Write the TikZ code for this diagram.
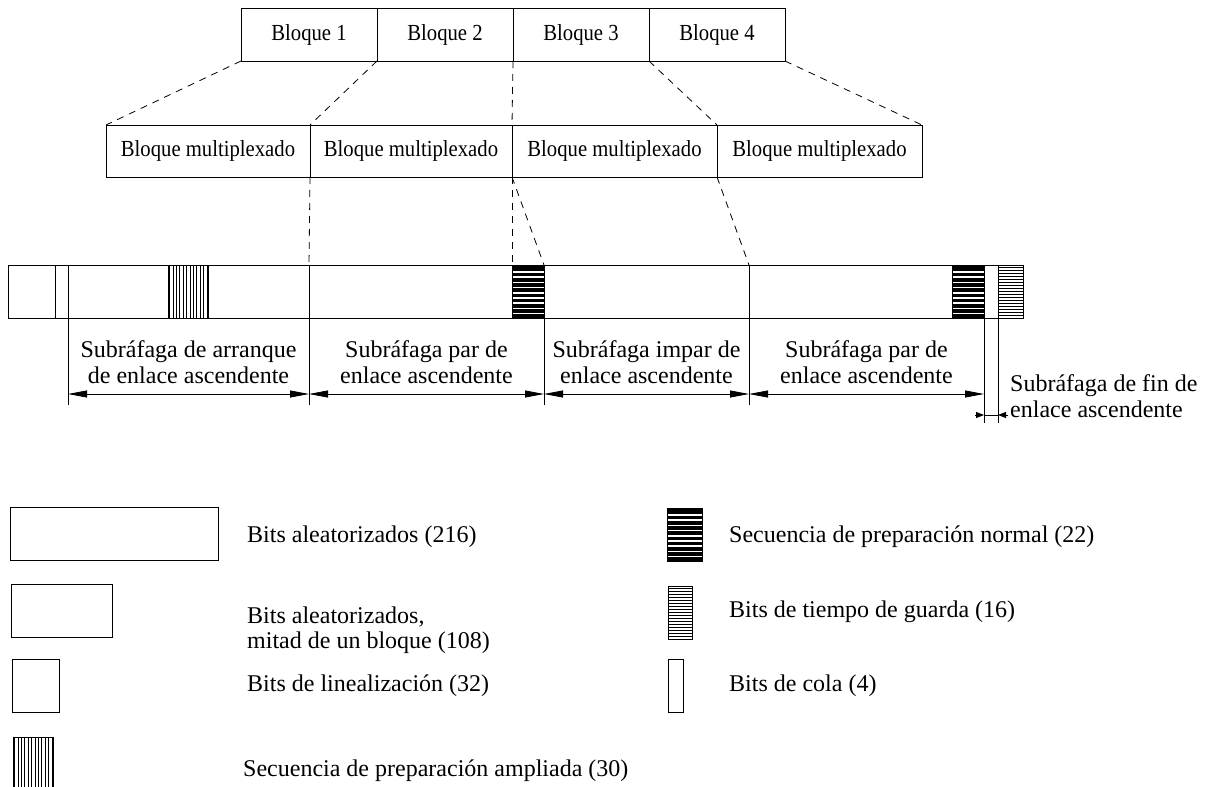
\documentclass[tikz,border=0pt]{standalone}
\usepackage{fontspec}
\usepackage{graphicx}
\setmainfont{Liberation Serif}
\usetikzlibrary{arrows.meta}

\newcommand\lbltxt{\fontsize{24}{25.5}\selectfont}
\newcommand\toplbl{\fontsize{23}{25}\selectfont}
\newcommand\squeezed[1]{\scalebox{0.9}[1]{#1}}

\tikzset{
  seg/.style={draw, line width=0.9pt, minimum height=53pt, inner sep=0pt, outer sep=0pt},
  tbox/.style={seg, minimum width=136pt, font=\toplbl},
  mbox/.style={seg, minimum height=52pt, font=\toplbl},
  guide/.style={line width=0.8pt, dash pattern=on 7pt off 6pt},
  extline/.style={line width=0.7pt},
  dimarr/.style={line width=0.8pt, {Triangle[length=19pt,width=7pt]}-{Triangle[length=19pt,width=7pt]}},
  finarr/.style={line width=0.8pt, -{Triangle[length=8pt,width=6pt]}},
  lbl/.style={font=\lbltxt, align=center, inner sep=0pt},
  leg/.style={font=\lbltxt, anchor=west, inner sep=0pt, align=left},
  % normal training sequence: black with white horizontal lines
  ntrain/.style={seg, fill=black, path picture={
      \foreach \k in {0,...,8}{
        \draw[white, line width=1.5pt]
          ([yshift={-(7+5.2*\k)*1pt}]path picture bounding box.north west) --
          ([yshift={-(7+5.2*\k)*1pt}]path picture bounding box.north east);
      }}},
  % guard time: thin horizontal lines
  gtrain/.style={seg, path picture={
      \foreach \k in {0,...,16}{
        \draw[black, line width=0.6pt]
          ([yshift={-(2.5+3*\k)*1pt}]path picture bounding box.north west) --
          ([yshift={-(2.5+3*\k)*1pt}]path picture bounding box.north east);
      }}},
  % extended training sequence: vertical lines
  xtrain/.style={seg, path picture={
      \foreach \k in {0,...,11}{
        \draw[black, line width=0.8pt]
          ([xshift={(1.5+3.4*\k)*1pt}]path picture bounding box.north west) --
          ([xshift={(1.5+3.4*\k)*1pt}]path picture bounding box.south west);
      }}},
}

\begin{document}
\begin{tikzpicture}[x=1pt, y=-1pt]
  \clip (0,0) rectangle (1208,787);
  \fill[white] (0,0) rectangle (1208,787);

  % blocks
  \node[tbox] (b1) at (309,34.5) {\squeezed{Bloque 1}};
  \node[tbox] (b2) at (445,34.5) {\squeezed{Bloque 2}};
  \node[tbox] (b3) at (581,34.5) {\squeezed{Bloque 3}};
  \node[tbox] (b4) at (717,34.5) {\squeezed{Bloque 4}};

  % multiplexed blocks
  \node[mbox, minimum width=204pt] (m1) at (208,151) {\squeezed{Bloque multiplexado}};
  \node[mbox, minimum width=202pt] (m2) at (411,151) {\squeezed{Bloque multiplexado}};
  \node[mbox, minimum width=205pt] (m3) at (614.5,151) {\squeezed{Bloque multiplexado}};
  \node[mbox, minimum width=205pt] (m4) at (819.5,151) {\squeezed{Bloque multiplexado}};

  % uplink burst
  \node[seg, minimum width=47pt]  (lin) at (31.5,291.5) {};
  \node[seg, minimum width=13pt]  (tl1) at (61.5,291.5) {};
  \node[seg, minimum width=100pt] (rh1) at (118,291.5) {};
  \node[xtrain, minimum width=40pt] (xt) at (188,291.5) {};
  \node[seg, minimum width=101pt] (rh2) at (258.5,291.5) {};
  \node[seg, minimum width=203pt] (r1) at (410.5,291.5) {};
  \node[ntrain, minimum width=32pt] (nt1) at (528,291.5) {};
  \node[seg, minimum width=205pt] (r2) at (646.5,291.5) {};
  \node[seg, minimum width=203pt] (r3) at (850.5,291.5) {};
  \node[ntrain, minimum width=32pt] (nt2) at (968,291.5) {};
  \node[seg, minimum width=14pt]  (tl2) at (991,291.5) {};
  \node[gtrain, minimum width=25pt] (gd) at (1010.5,291.5) {};

  % mapping guides
  \draw[guide] (b1.south west) -- (m1.north west);
  \draw[guide] (b2.south west) -- (m2.north west);
  \draw[guide] (b3.south west) -- (m3.north west);
  \draw[guide] (b4.south west) -- (m4.north west);
  \draw[guide] (b4.south east) -- (m4.north east);
  \draw[guide] (m2.south west) -- (r1.north west);
  \draw[guide] (m3.south west) -- (nt1.north west);
  \draw[guide] (m3.south west) -- (nt1.north east);
  \draw[guide] (m4.south west) -- (r3.north west);

  % extension lines
  \coordinate (v0) at (68,405);
  \coordinate (v1) at (309,405);
  \coordinate (v2) at (544,405);
  \coordinate (v3) at (749,405);
  \coordinate (v4) at (984,423);
  \coordinate (v5) at (998,423);
  \draw[extline] (rh1.south west) -- (v0);
  \draw[extline] (r1.south west) -- (v1);
  \draw[extline] (r2.south west) -- (v2);
  \draw[extline] (r3.south west) -- (v3);
  \draw[extline] (tl2.south west) -- (v4);
  \draw[extline] (tl2.south east) -- (v5);

  % dimension arrows
  \coordinate (d0) at (68,394);
  \coordinate (d1) at (309,394);
  \coordinate (d2) at (544,394);
  \coordinate (d3) at (749,394);
  \coordinate (d4) at (984,394);
  \draw[dimarr] (d0) -- (d1);
  \draw[dimarr] (d1) -- (d2);
  \draw[dimarr] (d2) -- (d3);
  \draw[dimarr] (d3) -- (d4);

  \coordinate (fa) at (975,415);
  \coordinate (fb) at (984,415);
  \coordinate (fc) at (998,415);
  \coordinate (fd) at (1008,415);
  \draw[finarr] (fa) -- (fb);
  \draw[line width=0.8pt] (fb) -- (fc);
  \draw[finarr] (fd) -- (fc);

  % sub-burst labels
  \node[lbl] (s1) at (188.5,362) {Subráfaga de arranque\\de enlace ascendente};
  \node[lbl] (s2) at (426.5,362) {Subráfaga par de\\enlace ascendente};
  \node[lbl] (s3) at (646.5,362) {Subráfaga impar de\\enlace ascendente};
  \node[lbl] (s4) at (866.5,362) {Subráfaga par de\\enlace ascendente};
  \node[lbl, anchor=west, align=left] (s5) at (1010,396) {Subráfaga de fin de\\enlace ascendente};

  % legend
  \node[seg, minimum width=208pt] (k1) at (114,533.5) {};
  \node[seg, minimum width=101pt] (k2) at (61.5,610.5) {};
  \node[seg, minimum width=47pt]  (k3) at (35.5,685.5) {};
  \node[xtrain, minimum width=40pt] (k4) at (33,763.5) {};
  \node[ntrain, minimum width=35pt] (k5) at (684.5,534.5) {};
  \node[gtrain, minimum width=24pt] (k6) at (680,612.5) {};
  \node[seg, minimum width=15pt]  (k7) at (675.5,685.5) {};

  \node[leg] (t1) at (247,537) {Bits aleatorizados (216)};
  \node[leg] (t2) at (247,630) {Bits aleatorizados,\\mitad de un bloque (108)};
  \node[leg] (t3) at (247,686) {Bits de linealización (32)};
  \node[leg] (t4) at (243,771) {Secuencia de preparación ampliada (30)};
  \node[leg] (t5) at (729,537) {Secuencia de preparación normal (22)};
  \node[leg] (t6) at (729,612) {Bits de tiempo de guarda (16)};
  \node[leg] (t7) at (729,686) {Bits de cola (4)};
\end{tikzpicture}
\end{document}
